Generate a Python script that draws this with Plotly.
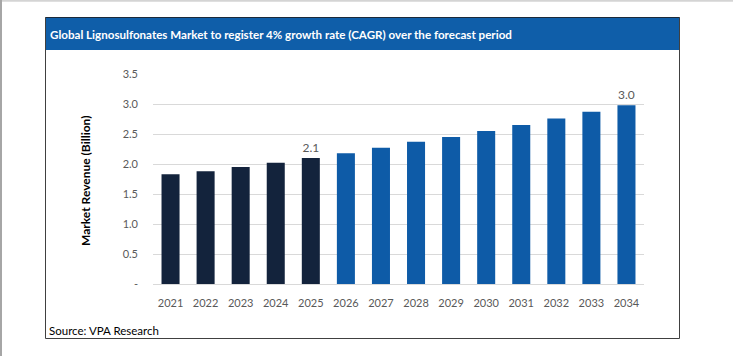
import plotly.graph_objects as go

years = ["2021", "2022", "2023", "2024", "2025", "2026", "2027", "2028", "2029", "2030", "2031", "2032", "2033", "2034"]
revenue = [1.83, 1.88, 1.95, 2.02, 2.10, 2.18, 2.27, 2.37, 2.45, 2.55, 2.65, 2.76, 2.87, 2.98]
historical_years = ["2021", "2022", "2023", "2024", "2025"]
labelled_years = ["2025", "2034"]
y_tick_vals = [0, 0.5, 1.0, 1.5, 2.0, 2.5, 3.0, 3.5]
y_tick_text = ["-", "0.5", "1.0", "1.5", "2.0", "2.5", "3.0", "3.5"]

DARK = "#13233c"
BLUE = "#0e5ba7"
W, H = 734, 356
L, R, T, B = 153, 644, 74, 284
FONT = "Lato"

colors = [DARK if y in historical_years else BLUE for y in years]
texts = [f"{v:.1f}" if y in labelled_years else "" for y, v in zip(years, revenue)]

fig = go.Figure(go.Bar(
    x=years, y=revenue, marker=dict(color=colors, line=dict(width=0)),
    text=texts, textposition="outside", cliponaxis=False,
    textfont=dict(family=FONT, size=12, color="#595959"),
))

def px(x):
    return (x - L) / (R - L)

def py(y):
    return (B - y) / (B - T)

shapes = [
    # outer page lines
    dict(type="line", x0=px(0), x1=px(733), y0=py(0.8), y1=py(0.8), line=dict(color="#d4d4d4", width=2)),
    dict(type="line", x0=px(1), x1=px(1), y0=py(0), y1=py(356), line=dict(color="#a6a6a6", width=2)),
    # chart frame
    dict(type="rect", x0=px(45.5), x1=px(679.5), y0=py(17.5), y1=py(338.5), line=dict(color="#404040", width=1), fillcolor="white", layer="below"),
    # title bar
    dict(type="rect", x0=px(46), x1=px(679), y0=py(17.5), y1=py(50), line=dict(width=0), fillcolor="#0f5ea9"),
    dict(type="line", x0=px(45.5), x1=px(679.5), y0=py(17.5), y1=py(17.5), line=dict(color="#1b2a3a", width=1)),
]
for s in shapes:
    s["xref"] = "paper"
    s["yref"] = "paper"

annotations = [
    dict(text="<b>Global Lignosulfonates Market to register 4% growth rate (CAGR) over the forecast period</b>",
         x=px(48), y=py(34), xanchor="left", yanchor="middle", showarrow=False,
         font=dict(family=FONT, size=11.6, color="white")),
    dict(text="<b>Market Revenue (Billion)</b>", x=px(85), y=py(181), textangle=-90,
         xanchor="center", yanchor="middle", showarrow=False,
         font=dict(family=FONT, size=12, color="black")),
    dict(text="Source: VPA Research", x=px(47), y=py(330), xanchor="left", yanchor="middle",
         showarrow=False, font=dict(family=FONT, size=11.5, color="black")),
]
for a in annotations:
    a["xref"] = "paper"
    a["yref"] = "paper"

fig.update_layout(
    width=W, height=H,
    margin=dict(l=L, r=W - R, t=T, b=H - B),
    paper_bgcolor="white", plot_bgcolor="white",
    showlegend=False, bargap=0.486,
    shapes=shapes, annotations=annotations,
    font=dict(family=FONT, size=11, color="#595959"),
    xaxis=dict(showline=True, linecolor="#d9d9d9", linewidth=1, ticks="",
               tickfont=dict(family=FONT, size=11, color="#595959"), ticklabelstandoff=9,
               showgrid=False),
    yaxis=dict(range=[0, 3.5], tickvals=y_tick_vals, ticktext=y_tick_text,
               showgrid=True, gridcolor="#d9d9d9", gridwidth=1, zeroline=False,
               showline=False, ticks="", ticklabelstandoff=14,
               tickfont=dict(family=FONT, size=11, color="#595959")),
)

fig.write_html("out.html", config={"displayModeBar": False},
               post_script="document.body.style.margin='0';document.body.style.overflow='hidden';")
